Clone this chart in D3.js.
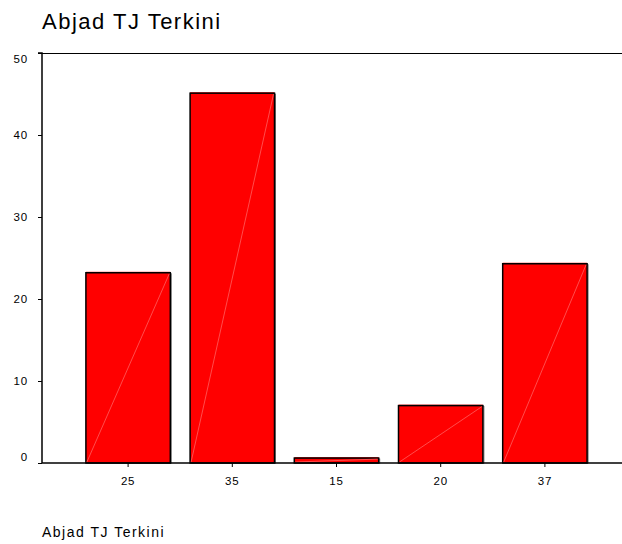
<!DOCTYPE html>
<html><head><meta charset="utf-8">
<script src="https://cdn.jsdelivr.net/npm/d3@7"></script>
<style>body{margin:0;background:#fff;}svg{display:block;font-family:"Liberation Sans",Arial,sans-serif;}</style>
</head><body>
<svg id="c" width="622" height="544"></svg>
<script>
const categories = ["25","35","15","20","37"];
const values = [23.2, 45.1, 0.6, 7.0, 24.3];
const yTicks = [0,10,20,30,40,50];
const titleText = "Abjad TJ Terkini";
const footerText = "Abjad TJ Terkini";

const svg = d3.select("#c");
const x0 = 42, yTop = 53, yBot = 463, xEnd = 622;
const x = d3.scaleBand().domain(categories).range([76, 597]).paddingInner(0.19).paddingOuter(0.095);
const y = d3.scaleLinear().domain([0,50]).range([yBot, yTop]);

svg.append("text").attr("x", 42).attr("y", 28.5).attr("font-size", 22).attr("letter-spacing", 1.5).attr("fill","#000").text(titleText);
svg.append("text").attr("x", 42).attr("y", 537).attr("font-size", 14).attr("letter-spacing", 1.5).attr("fill","#000").text(footerText);

// top border
svg.append("line").attr("x1", x0).attr("x2", xEnd).attr("y1", yTop+0.5).attr("y2", yTop+0.5).attr("stroke","#000").attr("stroke-width",1.2);

// bars
const g = svg.append("g");
categories.forEach((c,i)=>{
  const bx = x(c), bw = x.bandwidth(), by = y(values[i]), bh = yBot - by;
  g.append("rect").attr("x", bx).attr("y", by-1).attr("width", bw).attr("height", 1).attr("fill", "#ff2020");
  g.append("rect").attr("x", bx+1).attr("y", by+1).attr("width", bw).attr("height", bh-1).attr("fill","none").attr("stroke","#777").attr("stroke-width",1);
  g.append("rect").attr("x", bx).attr("y", by).attr("width", bw).attr("height", bh).attr("fill","#ff0000").attr("stroke","#000").attr("stroke-width",1.5);
  g.append("line").attr("x1", bx+1).attr("y1", yBot-1).attr("x2", bx+bw-1).attr("y2", by+1).attr("stroke","#ff8080").attr("stroke-width",0.6);
});

// y axis
const yAxis = d3.axisLeft(y).tickValues(yTicks).tickSize(4).tickPadding(10);
const ya = svg.append("g").attr("transform", `translate(${x0},0)`).call(yAxis);
ya.select(".domain").attr("stroke","#000").attr("stroke-width",1.5).attr("d", `M-4,${yTop}H0V${yBot}`);
ya.selectAll(".tick line").attr("stroke","#000");
ya.selectAll(".tick text").attr("font-size", 11.5).attr("letter-spacing", 0.8).attr("fill","#000").attr("font-family","Liberation Sans, Arial, sans-serif")
  .attr("dy", (d)=> d===0 ? "-0.2em" : d===50 ? "0.8em" : "0.32em");

// x axis
const xAxis = d3.axisBottom(x).tickSize(4).tickPadding(10);
const xa = svg.append("g").attr("transform", `translate(0,${yBot})`).call(xAxis);
xa.select(".domain").attr("stroke","#000").attr("stroke-width",1.5).attr("d", `M${x0},0H${xEnd}`);
xa.selectAll(".tick line").attr("stroke","#000");
xa.selectAll(".tick text").attr("font-size", 11.5).attr("letter-spacing", 0.8).attr("fill","#000").attr("font-family","Liberation Sans, Arial, sans-serif");
</script>
</body></html>
